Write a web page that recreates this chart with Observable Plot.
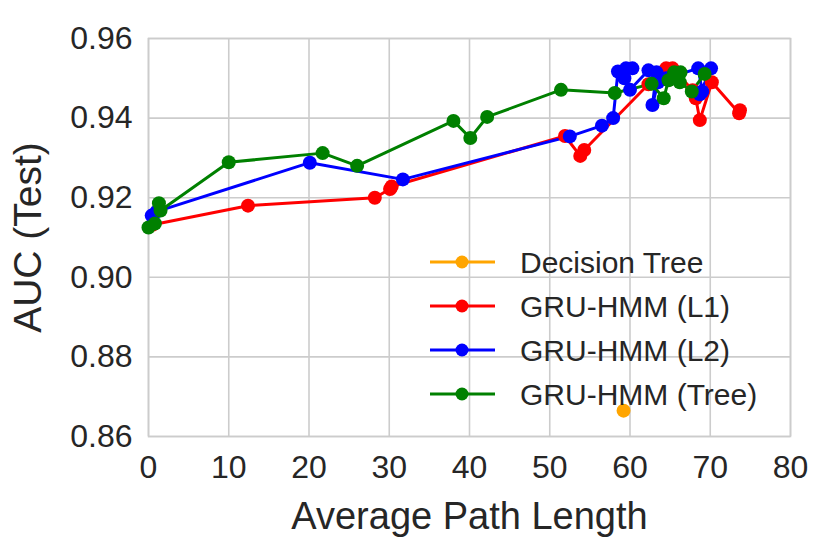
<!DOCTYPE html>
<html>
<head>
<meta charset="utf-8">
<script src="https://cdn.jsdelivr.net/npm/d3@7"></script>
<script src="https://cdn.jsdelivr.net/npm/@observablehq/plot@0.6"></script>
<style>
body { margin: 0; background: #fff; font-family: "Liberation Sans", Arial, sans-serif; }
#chart { position: relative; width: 830px; height: 554px; }
</style>
</head>
<body>
<div id="chart"></div>
<script>
const seriesNames = ["Decision Tree", "GRU-HMM (L1)", "GRU-HMM (L2)", "GRU-HMM (Tree)"];
const seriesColors = ["#ffa500", "#ff0000", "#0000ff", "#008000"];

const dtX = [59.2];
const dtY = [0.8665];

const l1X = [0.5, 12.4, 28.2, 30.1, 30.3, 51.9, 53.8, 54.3, 62.3, 63.5, 64.5, 65.3, 66.0, 67.8, 68.2, 68.7, 70.2, 73.6, 73.7];
const l1Y = [0.9132, 0.918, 0.920, 0.9222, 0.9228, 0.9355, 0.9305, 0.932, 0.9485, 0.951, 0.9525, 0.9525, 0.951, 0.947, 0.945, 0.9395, 0.949, 0.9412, 0.942];

const l2X = [0.4, 1.0, 20.1, 31.7, 52.5, 56.5, 57.9, 58.5, 59.5, 60.3, 59.3, 60.0, 62.3, 63.3, 62.8, 63.5, 64.5, 68.5, 69.0, 68.7, 70.1];
const l2Y = [0.9155, 0.9165, 0.9288, 0.9246, 0.9354, 0.9381, 0.940, 0.9517, 0.9525, 0.9525, 0.950, 0.9471, 0.952, 0.9515, 0.9433, 0.949, 0.950, 0.9525, 0.9467, 0.946, 0.9525];

const trX = [0.0, 0.8, 1.3, 1.5, 10.0, 21.7, 26.0, 38.0, 40.1, 42.2, 51.4, 58.1, 62.7, 64.2, 64.8, 65.5, 66.3, 66.2, 67.7, 69.3];
const trY = [0.9125, 0.9135, 0.9186, 0.9168, 0.9289, 0.9312, 0.928, 0.9393, 0.935, 0.9403, 0.9471, 0.9463, 0.9486, 0.945, 0.9495, 0.9515, 0.9515, 0.949, 0.9467, 0.9511];

const xTicks = [0, 10, 20, 30, 40, 50, 60, 70, 80];
const yTicks = [0.86, 0.88, 0.90, 0.92, 0.94, 0.96];

function rows(xs, ys, s) { return xs.map((x, i) => ({x, y: ys[i], s})); }
const data = [
  ...rows(dtX, dtY, seriesNames[0]),
  ...rows(l1X, l1Y, seriesNames[1]),
  ...rows(l2X, l2Y, seriesNames[2]),
  ...rows(trX, trY, seriesNames[3])
];

const colorScale = {domain: seriesNames, range: seriesColors};

const plot = Plot.plot({
  width: 830,
  height: 554,
  marginLeft: 148,
  marginRight: 40,
  marginTop: 38,
  marginBottom: 118,
  style: {fontFamily: '"Liberation Sans", Arial, sans-serif', fontSize: "32px", background: "#fff", color: "#262626", overflow: "visible"},
  x: {domain: [0, 80], ticks: xTicks},
  y: {domain: [0.86, 0.96], ticks: yTicks},
  color: colorScale,
  marks: [
    Plot.gridX(xTicks, {stroke: "#cccccc", strokeOpacity: 1, strokeWidth: 1.6}),
    Plot.gridY(yTicks, {stroke: "#cccccc", strokeOpacity: 1, strokeWidth: 1.6}),
    Plot.frame({stroke: "#cccccc", strokeWidth: 1.6}),
    Plot.axisX(xTicks, {tickSize: 0, tickPadding: 19, fontSize: 32, label: null, tickFormat: d => d}),
    Plot.axisY(yTicks, {tickSize: 0, tickPadding: 16, fontSize: 32, label: null, tickFormat: d3.format(".2f")}),
    Plot.text(["Average Path Length"], {frameAnchor: "bottom", lineAnchor: "bottom", textAnchor: "middle", dy: 92, fontSize: 38, fill: "#262626"}),
    Plot.text(["AUC (Test)"], {frameAnchor: "left", textAnchor: "middle", lineAnchor: "middle", dx: -120, rotate: -90, fontSize: 39, fill: "#262626"}),
    Plot.line(data, {x: "x", y: "y", z: "s", stroke: "s", strokeWidth: 3}),
    Plot.dot(data, {x: "x", y: "y", fill: "s", r: 7})
  ]
});

document.getElementById("chart").appendChild(plot);

// legend inside plot
const svg = d3.select(plot);
const lg = svg.append("g")
  .attr("font-family", '"Liberation Sans", Arial, sans-serif')
  .attr("text-anchor", "start");
const legendY0 = 262, legendStep = 44;
seriesNames.forEach((name, i) => {
  const y = legendY0 + i * legendStep;
  lg.append("line").attr("x1", 430).attr("x2", 495).attr("y1", y).attr("y2", y)
    .attr("stroke", seriesColors[i]).attr("stroke-width", 3);
  lg.append("circle").attr("cx", 462).attr("cy", y).attr("r", 6.5).attr("fill", seriesColors[i]);
  lg.append("text").attr("x", 520).attr("y", y).attr("dy", "0.35em")
    .attr("text-anchor", "start")
    .attr("font-size", 30).attr("fill", "#262626").text(name);
});
</script>
</body>
</html>
